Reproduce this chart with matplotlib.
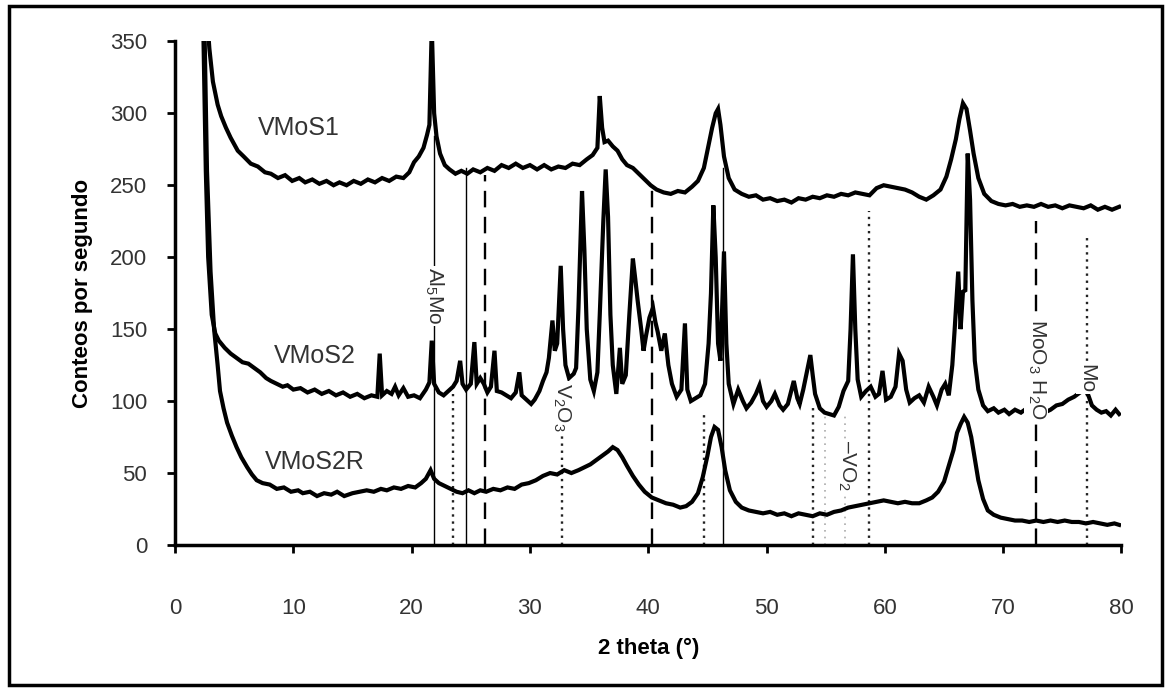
import matplotlib
matplotlib.use("Agg")
import matplotlib.pyplot as plt
from matplotlib.patches import Rectangle

plt.rcParams['font.family'] = ['Liberation Sans', 'DejaVu Sans']
plt.rcParams['mathtext.fontset'] = 'custom'
plt.rcParams['mathtext.rm'] = 'Liberation Sans'
plt.rcParams['mathtext.it'] = 'Liberation Sans'

# ---- data: (2theta, counts per second) ----
vmos1 = [(2.6, 380), (2.9, 345), (3.2, 322), (3.6, 306), (3.9, 298), (4.3, 290), (4.7, 283), (5.3, 274),
         (5.8, 270), (6.4, 265), (7.0, 263), (7.6, 259), (8.1, 258), (8.7, 255), (9.3, 257), (9.9, 253),
         (10.5, 255), (11.0, 252), (11.6, 254), (12.2, 251), (12.8, 253), (13.4, 250), (13.9, 252),
         (14.5, 250), (15.1, 253), (15.7, 251), (16.3, 254), (16.9, 252), (17.5, 255), (18.1, 253),
         (18.7, 256), (19.3, 255), (19.8, 259), (20.2, 266), (20.6, 270), (21.0, 276), (21.3, 285),
         (21.5, 292), (21.7, 360), (21.9, 300), (22.1, 284), (22.4, 272), (22.8, 264), (23.2, 261),
         (23.7, 258), (24.2, 260), (24.7, 258), (25.2, 261), (25.8, 259), (26.4, 262), (27.0, 260),
         (27.6, 264), (28.2, 262), (28.8, 265), (29.4, 262), (30.0, 264), (30.6, 261), (31.2, 264),
         (31.8, 261), (32.4, 263), (33.0, 262), (33.6, 265), (34.2, 264), (34.8, 268), (35.3, 271),
         (35.7, 276), (35.9, 312), (36.1, 290), (36.3, 280), (36.6, 281), (37.0, 277), (37.4, 274),
         (37.8, 268), (38.2, 264), (38.7, 262), (39.2, 258), (39.7, 254), (40.2, 250), (40.7, 247),
         (41.3, 245), (41.9, 244), (42.5, 246), (43.1, 245), (43.7, 249), (44.2, 253), (44.7, 262),
         (45.1, 278), (45.4, 290), (45.7, 300), (45.9, 303), (46.1, 292), (46.4, 270), (46.8, 255),
         (47.3, 247), (47.9, 244), (48.5, 242), (49.1, 243), (49.7, 240), (50.3, 241), (50.9, 239),
         (51.5, 240), (52.1, 238), (52.7, 241), (53.3, 240), (53.9, 242), (54.5, 241), (55.1, 243),
         (55.7, 242), (56.3, 244), (56.9, 243), (57.5, 245), (58.1, 244), (58.7, 243), (59.3, 248),
         (59.9, 250), (60.5, 249), (61.1, 248), (61.7, 247), (62.3, 245), (62.9, 242), (63.5, 240),
         (64.1, 243), (64.7, 247), (65.2, 256), (65.6, 268), (66.0, 282), (66.3, 296), (66.6, 307),
         (66.9, 303), (67.2, 288), (67.5, 272), (67.9, 255), (68.4, 244), (69.0, 239), (69.6, 237),
         (70.2, 236), (70.8, 237), (71.4, 235), (72.0, 236), (72.6, 235), (73.2, 237), (73.8, 235),
         (74.4, 236), (75.0, 234), (75.6, 236), (76.2, 235), (76.8, 234), (77.4, 236), (78.0, 233),
         (78.6, 235), (79.2, 233), (79.8, 235)]

vmos2 = [(2.3, 400), (2.6, 260), (2.8, 200), (3.1, 160), (3.4, 147), (3.7, 142), (4.2, 137), (4.7, 133),
         (5.2, 130), (5.7, 127), (6.2, 126), (6.7, 123), (7.2, 120), (7.7, 116), (8.1, 114), (8.6, 112),
         (9.1, 110), (9.5, 111), (10.0, 108), (10.6, 109), (11.2, 106), (11.8, 108), (12.4, 105),
         (13.0, 107), (13.6, 104), (14.2, 106), (14.8, 103), (15.4, 105), (16.0, 102), (16.6, 104),
         (17.1, 103), (17.3, 133), (17.5, 104), (17.9, 107), (18.3, 105), (18.6, 110), (18.9, 104),
         (19.3, 109), (19.7, 103), (20.2, 104), (20.7, 102), (21.2, 108), (21.5, 113), (21.7, 142),
         (21.9, 112), (22.3, 106), (22.7, 104), (23.1, 107), (23.5, 110), (23.8, 114), (24.1, 128),
         (24.3, 112), (24.6, 108), (25.0, 112), (25.3, 141), (25.5, 112), (25.8, 116), (26.1, 112),
         (26.4, 106), (26.7, 110), (27.0, 135), (27.2, 107), (27.6, 106), (28.0, 104), (28.4, 102),
         (28.8, 106), (29.1, 120), (29.3, 104), (29.7, 101), (30.1, 98), (30.4, 101), (30.8, 107),
         (31.1, 114), (31.4, 120), (31.6, 130), (31.9, 156), (32.1, 135), (32.3, 140), (32.6, 194),
         (32.8, 150), (33.0, 125), (33.3, 116), (33.7, 119), (33.9, 123), (34.1, 165), (34.4, 246),
         (34.6, 205), (34.8, 150), (35.1, 115), (35.4, 107), (35.7, 120), (35.9, 160), (36.2, 225),
         (36.4, 261), (36.6, 228), (36.8, 160), (37.0, 125), (37.3, 105), (37.6, 137), (37.8, 112),
         (38.1, 118), (38.4, 160), (38.7, 199), (38.9, 185), (39.1, 170), (39.4, 150), (39.6, 135),
         (39.8, 145), (40.1, 158), (40.4, 165), (40.6, 155), (40.8, 148), (41.1, 135), (41.4, 147),
         (41.7, 125), (42.0, 112), (42.4, 103), (42.8, 108), (43.1, 154), (43.3, 108), (43.6, 100),
         (44.0, 102), (44.4, 104), (44.8, 112), (45.1, 140), (45.3, 175), (45.5, 236), (45.7, 200),
         (45.9, 140), (46.1, 128), (46.4, 204), (46.6, 140), (46.8, 112), (47.2, 98), (47.6, 108),
         (48.0, 100), (48.3, 95), (48.7, 99), (49.1, 105), (49.4, 111), (49.7, 100), (50.0, 96),
         (50.4, 100), (50.7, 105), (51.1, 97), (51.4, 94), (51.8, 98), (52.3, 114), (52.6, 102),
         (52.8, 98), (53.1, 108), (53.3, 116), (53.7, 132), (53.9, 118), (54.1, 105), (54.5, 95),
         (54.9, 92), (55.3, 91), (55.7, 90), (56.1, 96), (56.5, 107), (56.9, 114), (57.1, 150),
         (57.3, 202), (57.5, 150), (57.7, 115), (58.0, 103), (58.4, 107), (58.8, 110), (59.2, 103),
         (59.5, 105), (59.8, 121), (60.1, 101), (60.5, 103), (60.9, 110), (61.2, 133), (61.5, 128),
         (61.8, 108), (62.1, 99), (62.5, 102), (62.9, 104), (63.3, 99), (63.7, 110), (64.1, 103),
         (64.4, 97), (64.8, 108), (65.1, 112), (65.4, 104), (65.7, 125), (65.9, 150), (66.2, 190),
         (66.4, 150), (66.6, 176), (66.8, 177), (67.0, 272), (67.2, 240), (67.4, 170), (67.6, 128),
         (67.9, 108), (68.3, 97), (68.7, 93), (69.2, 95), (69.6, 92), (70.1, 94), (70.5, 91),
         (71.0, 94), (71.5, 92), (72.0, 95), (72.5, 93), (73.0, 94), (73.5, 92), (74.0, 94),
         (74.5, 97), (75.0, 98), (75.5, 101), (76.0, 103), (76.5, 106), (76.9, 108), (77.2, 104),
         (77.5, 97), (77.9, 94), (78.3, 92), (78.7, 93), (79.1, 90), (79.5, 94), (79.8, 91)]

vmos2r = [(2.4, 400), (2.7, 260), (3.0, 190), (3.3, 150), (3.6, 125), (3.8, 107), (4.1, 95), (4.4, 85),
          (4.8, 76), (5.2, 68), (5.6, 61), (6.1, 54), (6.5, 49), (6.9, 45), (7.4, 43), (8.0, 42),
          (8.6, 39), (9.2, 40), (9.8, 37), (10.4, 38), (10.8, 36), (11.4, 37), (12.0, 34), (12.6, 36),
          (13.2, 35), (13.7, 37), (14.3, 34), (15.0, 36), (15.6, 37), (16.2, 38), (16.8, 37),
          (17.4, 39), (17.9, 38), (18.5, 40), (19.1, 39), (19.7, 41), (20.3, 40), (20.8, 43),
          (21.2, 46), (21.6, 52), (21.9, 46), (22.3, 43), (22.8, 41), (23.3, 39), (23.8, 37),
          (24.3, 36), (24.8, 38), (25.3, 36), (25.8, 38), (26.3, 37), (26.9, 39), (27.5, 38),
          (28.1, 40), (28.7, 39), (29.3, 42), (29.9, 43), (30.5, 45), (31.1, 48), (31.7, 50),
          (32.3, 49), (32.9, 52), (33.5, 50), (34.1, 52), (34.6, 54), (35.1, 56), (35.6, 59),
          (36.1, 62), (36.6, 65), (37.0, 68), (37.4, 66), (37.8, 61), (38.2, 55), (38.7, 48),
          (39.2, 42), (39.7, 37), (40.3, 33), (40.9, 31), (41.5, 29), (42.1, 28), (42.7, 26),
          (43.2, 27), (43.7, 30), (44.2, 36), (44.6, 47), (45.0, 62), (45.3, 75), (45.6, 82),
          (45.9, 80), (46.2, 68), (46.5, 52), (46.9, 38), (47.4, 30), (47.9, 26), (48.5, 24),
          (49.1, 23), (49.7, 22), (50.3, 23), (50.9, 21), (51.5, 22), (52.1, 20), (52.7, 22),
          (53.3, 21), (53.9, 20), (54.5, 22), (55.1, 21), (55.7, 23), (56.3, 24), (56.9, 26),
          (57.5, 27), (58.1, 28), (58.7, 29), (59.3, 30), (59.9, 31), (60.5, 30), (61.1, 29),
          (61.7, 30), (62.3, 29), (62.9, 29), (63.5, 31), (64.0, 33), (64.5, 37), (65.0, 44),
          (65.4, 55), (65.8, 66), (66.1, 78), (66.4, 84), (66.7, 89), (67.0, 85), (67.3, 75),
          (67.6, 60), (67.9, 45), (68.3, 32), (68.7, 24), (69.2, 21), (69.8, 19), (70.4, 18),
          (71.0, 17), (71.6, 17), (72.2, 16), (72.8, 17), (73.4, 16), (74.0, 17), (74.6, 16),
          (75.2, 17), (75.8, 16), (76.4, 16), (77.0, 15), (77.6, 16), (78.2, 15), (78.8, 14),
          (79.4, 15), (79.8, 14)]

series_names = ["VMoS1", "VMoS2", "VMoS2R"]
series_label_pos = [(10.5, 290), (11.8, 131), (11.8, 58)]

# reference phase lines: position, top, style
ref_pos = [21.9, 23.5, 24.6, 26.2, 32.7, 40.3, 44.7, 46.3, 53.9, 54.9, 56.6, 58.7, 72.8, 77.1]
ref_top = [284, 105, 262, 257, 80, 250, 92, 262, 96, 92, 92, 232, 225, 216]
ref_style = ["solid", "dotted", "solid", "dashed", "dotted", "dashed", "dotted", "solid",
             "dotted", "faint", "faint", "dotted", "dashed", "dotted"]

phase_labels = ["Al$_5$Mo", "V$_2$O$_3$", "\u2013VO$_2$", "MoO$_3$ H$_2$O", "Mo"]
phase_label_pos = [(21.9, 173), (32.7, 96), (56.8, 55), (72.8, 122), (77.1, 116)]

xticks = [0, 10, 20, 30, 40, 50, 60, 70, 80]
yticks = [0, 50, 100, 150, 200, 250, 300, 350]

# ---- figure ----
fig = plt.figure(figsize=(11.67, 6.89), dpi=100)
ax = fig.add_axes([0.150, 0.209, 0.811, 0.731])

for xp, top, st in zip(ref_pos, ref_top, ref_style):
    if st == "solid":
        ax.plot([xp, xp], [0, top], color="black", lw=1.0, zorder=1)
    elif st == "dashed":
        ax.plot([xp, xp], [0, top], color="black", lw=1.7, linestyle=(0, (7, 4)), zorder=1)
    elif st == "dotted":
        ax.plot([xp, xp], [0, top], color="#222222", lw=1.7, linestyle=(0, (1, 2)), zorder=1)
    else:
        ax.plot([xp, xp], [0, top], color="#aaaaaa", lw=1.2, linestyle=(0, (1, 3)), zorder=1)

for data in (vmos1, vmos2, vmos2r):
    xs = [p[0] for p in data]
    ys = [p[1] for p in data]
    ax.plot(xs, ys, color="black", lw=3.0, solid_joinstyle="miter", zorder=2)

for name, (lx, ly) in zip(series_names, series_label_pos):
    ax.text(lx, ly, name, fontsize=18, color="#333333", ha="center", va="center", zorder=4)

for lab, (lx, ly) in zip(phase_labels, phase_label_pos):
    ax.text(lx, ly, lab, fontsize=15, color="#333333", rotation=-90, ha="center", va="center",
            zorder=3, bbox=dict(facecolor="white", edgecolor="none", pad=1.0))

ax.set_xlim(0, 80)
ax.set_ylim(0, 350)
ax.set_xticks(xticks)
ax.set_yticks(yticks)
ax.spines["top"].set_visible(False)
ax.spines["right"].set_visible(False)
ax.spines["left"].set_linewidth(2.5)
ax.spines["bottom"].set_linewidth(2.5)
ax.tick_params(axis="both", direction="out", length=6, width=2, labelsize=16, colors="black")
ax.tick_params(axis="x", pad=32, labelcolor="#333333")
ax.tick_params(axis="y", pad=14, labelcolor="#333333")
ax.set_xlabel("2 theta (°)", fontsize=16, fontweight="bold", labelpad=14)
ax.set_ylabel("Conteos por segundo", fontsize=16, fontweight="bold", labelpad=12)

fig.add_artist(Rectangle((0.008, 0.006), 0.988, 0.986, transform=fig.transFigure,
                         fill=False, edgecolor="black", lw=2.5))

fig.savefig("out.png", dpi=100)
